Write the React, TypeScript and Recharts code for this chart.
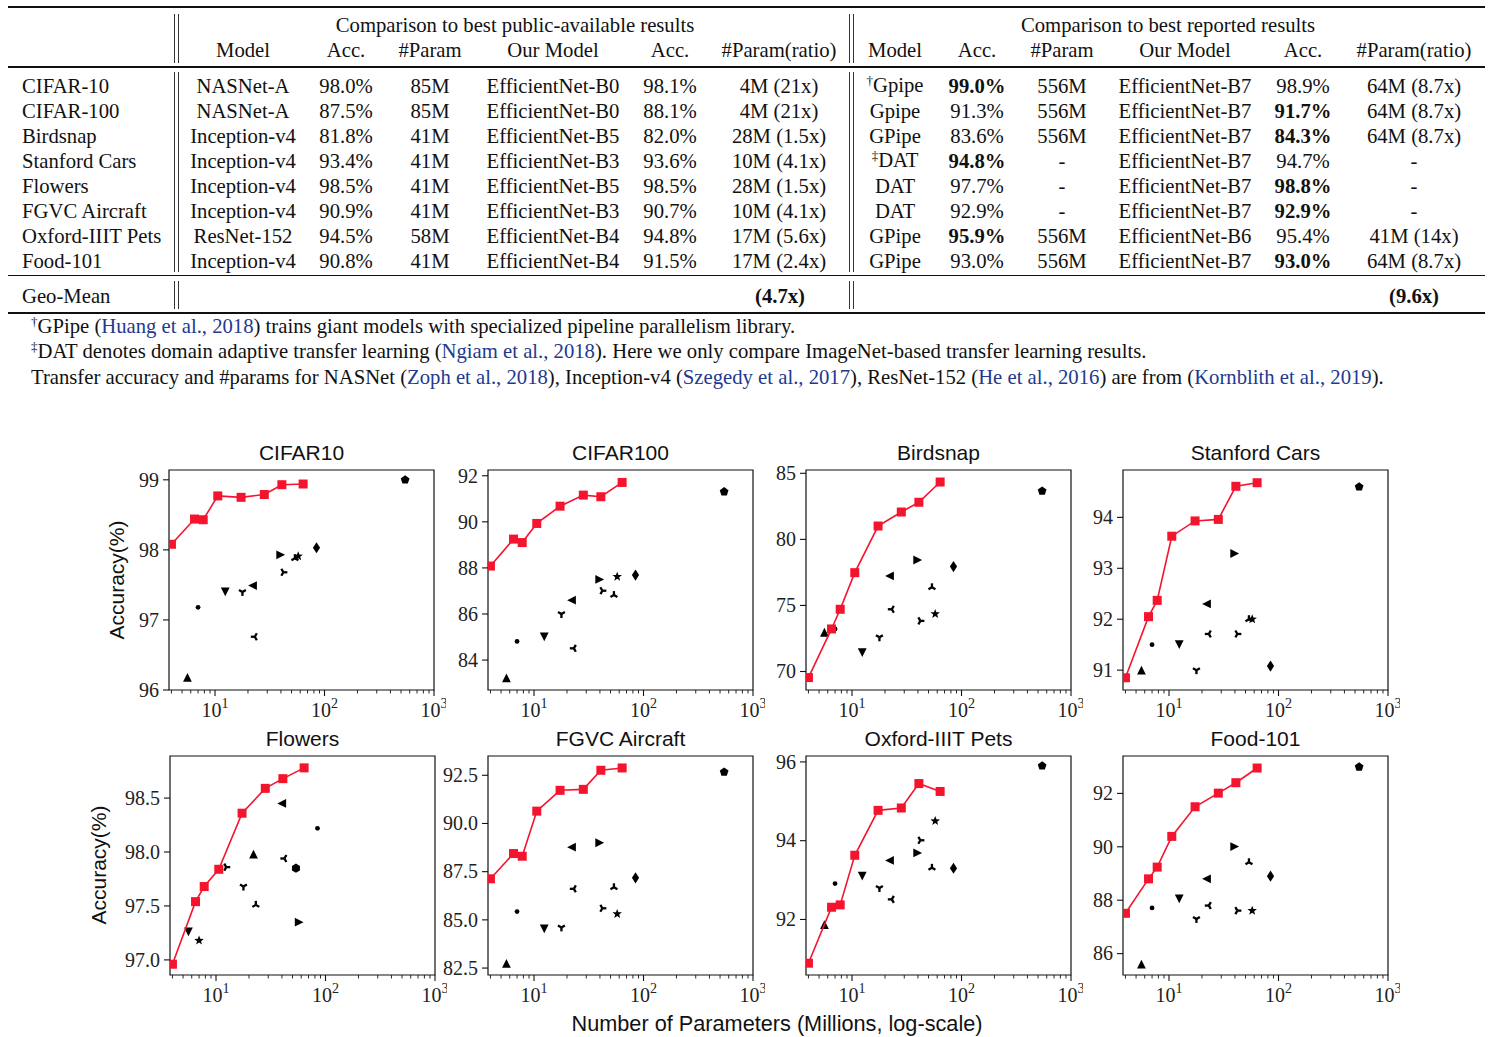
import React from 'react';
import { ScatterChart, Scatter, XAxis, YAxis, ReferenceArea } from 'recharts';

const RED = '#f5142d';
const SERIF = '"Liberation Serif", "Times New Roman", serif';
const SANS = '"Liberation Sans", Arial, sans-serif';
const LINK = '#22398f';

// ---------- table data ----------
const datasetNames = ['CIFAR-10', 'CIFAR-100', 'Birdsnap', 'Stanford Cars', 'Flowers', 'FGVC Aircraft', 'Oxford-IIIT Pets', 'Food-101'];
const pubModel = ['NASNet-A', 'NASNet-A', 'Inception-v4', 'Inception-v4', 'Inception-v4', 'Inception-v4', 'ResNet-152', 'Inception-v4'];
const pubAcc = ['98.0%', '87.5%', '81.8%', '93.4%', '98.5%', '90.9%', '94.5%', '90.8%'];
const pubParam = ['85M', '85M', '41M', '41M', '41M', '41M', '58M', '41M'];
const pubOurs = ['EfficientNet-B0', 'EfficientNet-B0', 'EfficientNet-B5', 'EfficientNet-B3', 'EfficientNet-B5', 'EfficientNet-B3', 'EfficientNet-B4', 'EfficientNet-B4'];
const pubOurAcc = ['98.1%', '88.1%', '82.0%', '93.6%', '98.5%', '90.7%', '94.8%', '91.5%'];
const pubRatio = ['4M (21x)', '4M (21x)', '28M (1.5x)', '10M (4.1x)', '28M (1.5x)', '10M (4.1x)', '17M (5.6x)', '17M (2.4x)'];
const repModel = ['Gpipe', 'Gpipe', 'GPipe', 'DAT', 'DAT', 'DAT', 'GPipe', 'GPipe'];
const repMark = ['†', '', '', '‡', '', '', '', ''];
const repAcc = ['99.0%', '91.3%', '83.6%', '94.8%', '97.7%', '92.9%', '95.9%', '93.0%'];
const repAccBold = [true, false, false, true, false, false, true, false];
const repParam = ['556M', '556M', '556M', '-', '-', '-', '556M', '556M'];
const repOurs = ['EfficientNet-B7', 'EfficientNet-B7', 'EfficientNet-B7', 'EfficientNet-B7', 'EfficientNet-B7', 'EfficientNet-B7', 'EfficientNet-B6', 'EfficientNet-B7'];
const repOurAcc = ['98.9%', '91.7%', '84.3%', '94.7%', '98.8%', '92.9%', '95.4%', '93.0%'];
const repOurBold = [false, true, true, false, true, true, false, true];
const repRatio = ['64M (8.7x)', '64M (8.7x)', '64M (8.7x)', '-', '-', '-', '41M (14x)', '64M (8.7x)'];
const headers = ['Model', 'Acc.', '#Param', 'Our Model', 'Acc.', '#Param(ratio)'];

// ---------- chart data ----------
const effParams = [4.0, 6.5, 7.8, 10.6, 17.3, 28.2, 40.8, 63.8];
const otherParams = [5.6, 7.0, 12.4, 17.8, 22.0, 23.1, 39.8, 42.1, 53.7, 57.5, 84.5, 545];
const otherMarkers = ['^', '.', 'v', '1', '<', '3', '>', '4', '2', '*', 'd', 'p'];
const flowersMarkers = ['v', '*', '4', '1', '^', '2', '<', '3', 'h', '>', '.'];

const cifar10Eff = [98.08, 98.44, 98.43, 98.77, 98.75, 98.79, 98.93, 98.94];
const cifar10Other = [96.18, 97.18, 97.4, 97.4, 97.49, 96.76, 97.93, 97.68, 97.88, 97.91, 98.03, 99.0];
const cifar100Eff = [88.08, 89.25, 89.1, 89.93, 90.68, 91.16, 91.09, 91.71];
const cifar100Other = [83.23, 84.81, 85.01, 86.0, 86.6, 84.51, 87.5, 87.01, 86.82, 87.62, 87.69, 91.31];
const birdsnapEff = [69.54, 73.22, 74.71, 77.48, 81.01, 82.07, 82.81, 84.34];
const birdsnapOther = [72.97, 73.22, 71.43, 72.59, 77.23, 74.71, 78.44, 73.83, 76.37, 74.36, 77.94, 83.66];
const carsEff = [90.85, 92.05, 92.37, 93.63, 93.93, 93.96, 94.61, 94.68];
const carsOther = [91.0, 91.5, 91.5, 91.0, 92.3, 91.71, 93.29, 91.71, 92.0, 92.0, 91.08, 94.6];
const flowersEff = [96.96, 97.54, 97.68, 97.84, 98.36, 98.59, 98.68, 98.78];
const flowersOther = [97.26, 97.18, 97.86, 97.68, 97.98, 97.51, 98.45, 97.94, 97.85, 97.35, 98.22];
const fgvcEff = [87.13, 88.44, 88.3, 90.64, 91.72, 91.77, 92.76, 92.88];
const fgvcOther = [82.74, 85.43, 84.53, 84.61, 88.77, 86.61, 89.0, 85.6, 86.69, 85.31, 87.18, 92.67];
const petsEff = [90.89, 92.31, 92.37, 93.63, 94.77, 94.83, 95.45, 95.25];
const petsOther = [91.87, 92.91, 93.1, 92.8, 93.5, 92.51, 93.69, 94.01, 93.31, 94.5, 93.3, 95.9];
const foodEff = [87.51, 88.8, 89.24, 90.39, 91.5, 92.01, 92.4, 92.95];
const foodOther = [85.61, 87.71, 88.05, 87.3, 88.8, 87.8, 90.01, 87.61, 89.42, 87.61, 88.9, 92.99];

const xTicks = [4, 5, 6, 7, 8, 9, 10, 20, 30, 40, 50, 60, 70, 80, 90, 100, 200, 300, 400, 500, 600, 700, 800, 900, 1000];
const xMajor = [10, 100, 1000];
const X_DOMAIN = [3.8, 1000];

const panels = [
  { title: 'CIFAR10', eff: cifar10Eff, other: cifar10Other, markers: otherMarkers, domain: [96, 99.14], ticks: [96, 97, 98, 99], digits: 0, left: 169, top: 470, h: 220 },
  { title: 'CIFAR100', eff: cifar100Eff, other: cifar100Other, markers: otherMarkers, domain: [82.7, 92.25], ticks: [84, 86, 88, 90, 92], digits: 0, left: 488, top: 470, h: 220 },
  { title: 'Birdsnap', eff: birdsnapEff, other: birdsnapOther, markers: otherMarkers, domain: [68.6, 85.25], ticks: [70, 75, 80, 85], digits: 0, left: 806, top: 470, h: 220 },
  { title: 'Stanford Cars', eff: carsEff, other: carsOther, markers: otherMarkers, domain: [90.61, 94.93], ticks: [91, 92, 93, 94], digits: 0, left: 1123, top: 470, h: 220 },
  { title: 'Flowers', eff: flowersEff, other: flowersOther, markers: flowersMarkers, domain: [96.86, 98.89], ticks: [97.0, 97.5, 98.0, 98.5], digits: 1, left: 170, top: 756, h: 219 },
  { title: 'FGVC Aircraft', eff: fgvcEff, other: fgvcOther, markers: otherMarkers, domain: [82.14, 93.5], ticks: [82.5, 85.0, 87.5, 90.0, 92.5], digits: 1, left: 488, top: 756, h: 219 },
  { title: 'Oxford-IIIT Pets', eff: petsEff, other: petsOther, markers: otherMarkers, domain: [90.59, 96.15], ticks: [92, 94, 96], digits: 0, left: 806, top: 756, h: 219 },
  { title: 'Food-101', eff: foodEff, other: foodOther, markers: otherMarkers, domain: [85.2, 93.4], ticks: [86, 88, 90, 92], digits: 0, left: 1123, top: 756, h: 219 },
];

const ML = 70;
const MT = 10;
const MR = 12;
const MB = 45;
const PW = 265;
const TFS = 20.7; // table font size

const Glyph = ({ kind, cx, cy }: { kind: string; cx: number; cy: number }) => {
  const f = '#000';
  const r = 4.4;
  const tri = (pts: number[][]) => (
    <g stroke={f} strokeWidth={2.3} strokeLinecap="butt">
      {pts.map((p, i) => (
        <line key={i} x1={cx} y1={cy} x2={cx + p[0] * 4} y2={cy + p[1] * 4} />
      ))}
    </g>
  );
  const poly = (n: number, rad: number, rot: number) =>
    Array.from({ length: n }, (_, i) => {
      const a = rot + (i * 2 * Math.PI) / n;
      return `${cx + rad * Math.cos(a)},${cy + rad * Math.sin(a)}`;
    }).join(' ');
  switch (kind) {
    case '^':
      return <polygon points={`${cx},${cy - r} ${cx - r},${cy + r} ${cx + r},${cy + r}`} fill={f} />;
    case 'v':
      return <polygon points={`${cx},${cy + r} ${cx - r},${cy - r} ${cx + r},${cy - r}`} fill={f} />;
    case '<':
      return <polygon points={`${cx - r},${cy} ${cx + r},${cy - r} ${cx + r},${cy + r}`} fill={f} />;
    case '>':
      return <polygon points={`${cx + r},${cy} ${cx - r},${cy - r} ${cx - r},${cy + r}`} fill={f} />;
    case '.':
      return <circle cx={cx} cy={cy} r={2.4} fill={f} />;
    case 'p':
      return <polygon points={poly(5, 4.6, -Math.PI / 2)} fill={f} />;
    case 'h':
      return <polygon points={poly(6, 4.6, -Math.PI / 2)} fill={f} />;
    case 'd':
      return <polygon points={`${cx},${cy - 5.6} ${cx + 3.6},${cy} ${cx},${cy + 5.6} ${cx - 3.6},${cy}`} fill={f} />;
    case '*': {
      const pts = Array.from({ length: 10 }, (_, i) => {
        const a = -Math.PI / 2 + (i * Math.PI) / 5;
        const rad = i % 2 === 0 ? 5 : 2.1;
        return `${cx + rad * Math.cos(a)},${cy + rad * Math.sin(a)}`;
      }).join(' ');
      return <polygon points={pts} fill={f} />;
    }
    case '1':
      return tri([[0, 1], [0.866, -0.5], [-0.866, -0.5]]);
    case '2':
      return tri([[0, -1], [0.866, 0.5], [-0.866, 0.5]]);
    case '3':
      return tri([[-1, 0], [0.5, -0.866], [0.5, 0.866]]);
    case '4':
      return tri([[1, 0], [-0.5, -0.866], [-0.5, 0.866]]);
    default:
      return null;
  }
};

const XTick = (props: any) => {
  const { x, y, payload } = props;
  const v = payload.value;
  const major = xMajor.includes(v);
  return (
    <g>
      <line x1={x} y1={y} x2={x} y2={y + (major ? 6 : 3.5)} stroke="#111" strokeWidth={major ? 1.1 : 0.9} />
      {major && (
        <text x={x} y={y + 27} textAnchor="middle" fontFamily={SERIF} fontSize={20} fill="#222">
          10
          <tspan dy={-9} fontSize={14}>
            {Math.round(Math.log10(v))}
          </tspan>
        </text>
      )}
    </g>
  );
};

const YTick = (props: any) => {
  const { x, y, payload, digits } = props;
  return (
    <g>
      <line x1={x} y1={y} x2={x - 6} y2={y} stroke="#111" strokeWidth={1.1} />
      <text x={x - 10} y={y} dy="0.34em" textAnchor="end" fontFamily={SERIF} fontSize={20} fill="#222">
        {Number(payload.value).toFixed(digits)}
      </text>
    </g>
  );
};

const Panel = ({ p }: { p: any }) => {
  const effData = effParams.map((x, i) => ({ x, y: p.eff[i] }));
  const otherData = p.other.map((y: number, i: number) => ({ x: otherParams[i], y, m: p.markers[i] }));
  return (
    <>
      <div
        style={{
          position: 'absolute',
          left: p.left + PW / 2,
          top: p.top - 17,
          transform: 'translate(-50%, -50%)',
          fontFamily: SANS,
          fontSize: 21,
          color: '#111',
          whiteSpace: 'nowrap',
        }}
      >
        {p.title}
      </div>
      <div style={{ position: 'absolute', left: p.left - ML, top: p.top - MT }}>
        <ScatterChart width={ML + PW + MR} height={MT + p.h + MB} margin={{ top: MT, right: MR, bottom: 0, left: 0 }}>
          <XAxis
            dataKey="x"
            type="number"
            scale="log"
            domain={X_DOMAIN}
            allowDataOverflow
            ticks={xTicks}
            interval={0}
            tickSize={0}
            tickMargin={0}
            axisLine={false}
            tickLine={false}
            tick={(t: any) => <XTick {...t} />}
            height={MB}
          />
          <YAxis
            dataKey="y"
            type="number"
            domain={p.domain}
            allowDataOverflow
            ticks={p.ticks}
            interval={0}
            tickSize={0}
            tickMargin={0}
            axisLine={false}
            tickLine={false}
            tick={(t: any) => <YTick {...t} digits={p.digits} />}
            width={ML}
          />
          <ReferenceArea
            x1={X_DOMAIN[0]}
            x2={X_DOMAIN[1]}
            y1={p.domain[0]}
            y2={p.domain[1]}
            fill="none"
            fillOpacity={0}
            stroke="#111"
            strokeWidth={1.2}
            ifOverflow="visible"
          />
          {otherData.map((d: any, i: number) => (
            <Scatter
              key={i}
              data={[d]}
              isAnimationActive={false}
              shape={(s: any) => <Glyph kind={d.m} cx={s.cx} cy={s.cy} />}
            />
          ))}
          <Scatter
            data={effData}
            isAnimationActive={false}
            line={{ stroke: RED, strokeWidth: 1.6 }}
            shape={(s: any) => <rect x={s.cx - 4.5} y={s.cy - 4.5} width={9} height={9} fill={RED} />}
          />
        </ScatterChart>
      </div>
    </>
  );
};

const Cell = ({ x, y, children, bold, left }: { x: number; y: number; children: React.ReactNode; bold?: boolean; left?: boolean }) => (
  <div
    style={{
      position: 'absolute',
      left: x,
      top: y,
      transform: left ? 'translate(0, -50%)' : 'translate(-50%, -50%)',
      whiteSpace: 'nowrap',
      lineHeight: '20px',
      fontFamily: SERIF,
      fontSize: TFS,
      fontWeight: bold ? 700 : 400,
      color: '#111',
    }}
  >
    {children}
  </div>
);

const Mark = ({ c }: { c: string }) => (
  <span style={{ fontSize: 13, position: 'relative', top: -7 }}>{c}</span>
);

const HRule = ({ y, t }: { y: number; t: number }) => (
  <div style={{ position: 'absolute', left: 8, width: 1477, top: y, height: t, background: '#111' }} />
);

const VBars = ({ x }: { x: number }) => (
  <>
    {[[14, 63], [72, 272], [281, 309]].map(([a, b], i) => (
      <React.Fragment key={i}>
        <div style={{ position: 'absolute', left: x, top: a, width: 1, height: b - a, background: '#333' }} />
        <div style={{ position: 'absolute', left: x + 4, top: a, width: 1, height: b - a, background: '#333' }} />
      </React.Fragment>
    ))}
  </>
);

const pubX = [243, 346, 430, 553, 670, 779];
const repX = [895, 977, 1062, 1185, 1303, 1414];

const Table = () => (
  <>
    <HRule y={6} t={2} />
    <HRule y={66} t={2} />
    <HRule y={275} t={1} />
    <HRule y={312} t={2} />
    <VBars x={174} />
    <VBars x={849} />
    <Cell x={515} y={25}>Comparison to best public-available results</Cell>
    <Cell x={1168} y={25}>Comparison to best reported results</Cell>
    {headers.map((h, i) => (
      <React.Fragment key={i}>
        <Cell x={pubX[i]} y={50}>{h}</Cell>
        <Cell x={repX[i]} y={50}>{h}</Cell>
      </React.Fragment>
    ))}
    {datasetNames.map((d, i) => {
      const y = 86 + i * 25;
      return (
        <React.Fragment key={d}>
          <Cell x={22} y={y} left>{d}</Cell>
          <Cell x={pubX[0]} y={y}>{pubModel[i]}</Cell>
          <Cell x={pubX[1]} y={y}>{pubAcc[i]}</Cell>
          <Cell x={pubX[2]} y={y}>{pubParam[i]}</Cell>
          <Cell x={pubX[3]} y={y}>{pubOurs[i]}</Cell>
          <Cell x={pubX[4]} y={y}>{pubOurAcc[i]}</Cell>
          <Cell x={pubX[5]} y={y}>{pubRatio[i]}</Cell>
          <Cell x={repX[0]} y={y}>
            {repMark[i] && <Mark c={repMark[i]} />}
            {repModel[i]}
          </Cell>
          <Cell x={repX[1]} y={y} bold={repAccBold[i]}>{repAcc[i]}</Cell>
          <Cell x={repX[2]} y={y}>{repParam[i]}</Cell>
          <Cell x={repX[3]} y={y}>{repOurs[i]}</Cell>
          <Cell x={repX[4]} y={y} bold={repOurBold[i]}>{repOurAcc[i]}</Cell>
          <Cell x={repX[5]} y={y}>{repRatio[i]}</Cell>
        </React.Fragment>
      );
    })}
    <Cell x={22} y={296} left>Geo-Mean</Cell>
    <Cell x={780} y={296} bold>(4.7x)</Cell>
    <Cell x={1414} y={296} bold>(9.6x)</Cell>
    <Cell x={31} y={327} left>
      <Mark c="†" />GPipe (<span style={{ color: LINK }}>Huang et al., 2018</span>) trains giant models with specialized pipeline parallelism library.
    </Cell>
    <Cell x={31} y={352} left>
      <Mark c="‡" />DAT denotes domain adaptive transfer learning (<span style={{ color: LINK }}>Ngiam et al., 2018</span>). Here we only compare ImageNet-based transfer learning results.
    </Cell>
    <Cell x={31} y={377} left>
      Transfer accuracy and #params for NASNet (<span style={{ color: LINK }}>Zoph et al., 2018</span>), Inception-v4 (
      <span style={{ color: LINK }}>Szegedy et al., 2017</span>), ResNet-152 (<span style={{ color: LINK }}>He et al., 2016</span>) are from (
      <span style={{ color: LINK }}>Kornblith et al., 2019</span>).
    </Cell>
  </>
);

const App = () => (
  <div style={{ position: 'absolute', left: 0, top: 0, width: 1490, height: 1037, background: '#fff', overflow: 'hidden' }}>
    <Table />
    {panels.map((p) => (
      <Panel key={p.title} p={p} />
    ))}
    <div
      style={{
        position: 'absolute',
        left: 117,
        top: 580,
        transform: 'translate(-50%, -50%) rotate(-90deg)',
        fontFamily: SANS,
        fontSize: 21,
        color: '#111',
        whiteSpace: 'nowrap',
      }}
    >
      Accuracy(%)
    </div>
    <div
      style={{
        position: 'absolute',
        left: 99,
        top: 865,
        transform: 'translate(-50%, -50%) rotate(-90deg)',
        fontFamily: SANS,
        fontSize: 21,
        color: '#111',
        whiteSpace: 'nowrap',
      }}
    >
      Accuracy(%)
    </div>
    <div
      style={{
        position: 'absolute',
        left: 777,
        top: 1024,
        transform: 'translate(-50%, -50%)',
        fontFamily: SANS,
        fontSize: 21.7,
        color: '#111',
        whiteSpace: 'nowrap',
      }}
    >
      Number of Parameters (Millions, log-scale)
    </div>
  </div>
);

export default App;
